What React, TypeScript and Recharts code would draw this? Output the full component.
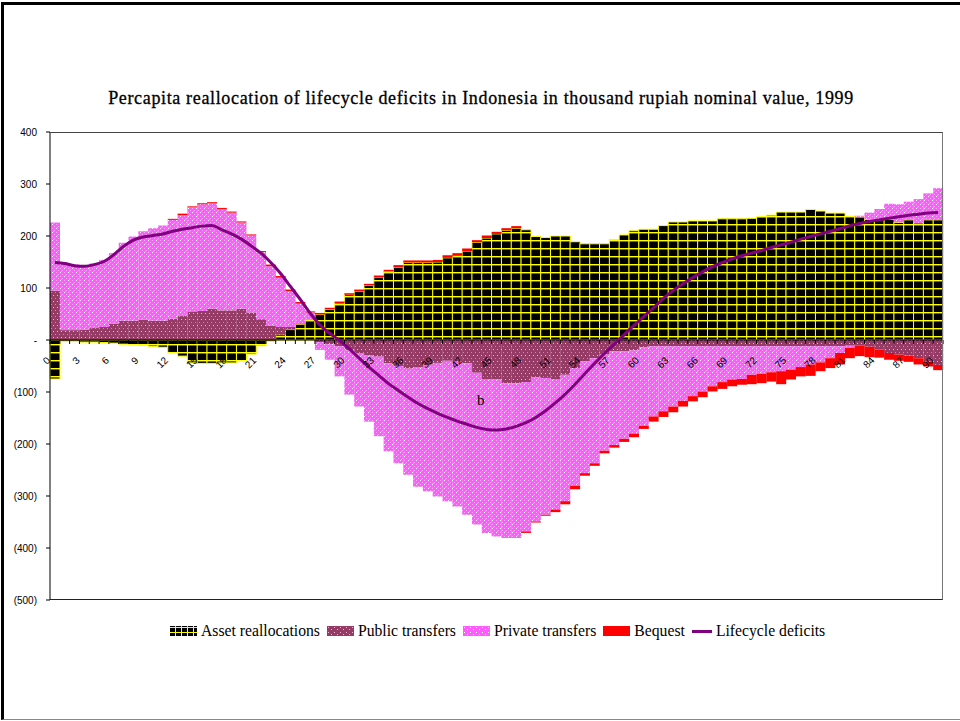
import React from 'react';
import { ComposedChart, Bar, Line, XAxis, YAxis, ReferenceLine } from 'recharts';

// ages 0..90
const ages = [
  0, 1, 2, 3, 4, 5, 6, 7, 8, 9, 10, 11, 12, 13, 14, 15, 16, 17, 18, 19, 20,
  21, 22, 23, 24, 25, 26, 27, 28, 29, 30, 31, 32, 33, 34, 35, 36, 37, 38, 39, 40,
  41, 42, 43, 44, 45, 46, 47, 48, 49, 50, 51, 52, 53, 54, 55, 56, 57, 58, 59, 60,
  61, 62, 63, 64, 65, 66, 67, 68, 69, 70, 71, 72, 73, 74, 75, 76, 77, 78, 79, 80,
  81, 82, 83, 84, 85, 86, 87, 88, 89, 90,
];

const assetReallocations = [
  -75, -3, -3, -4, -4, -5, -6, -8, -9, -10, -12, -14, -24, -31, -44, -45, -45, -44, -44, -40, -27,
  -11, -3, 10, 20, 30, 40, 49, 59, 71, 87, 94, 105, 121, 132, 140, 149, 149, 149, 150, 158,
  162, 171, 188, 196, 204, 211, 215, 212, 199, 197, 200, 200, 189, 185, 185, 185, 193, 202, 210, 213,
  213, 220, 227, 227, 229, 229, 229, 233, 233, 233, 234, 237, 240, 246, 246, 246, 251, 248, 244, 244,
  238, 237, 232, 232, 232, 226, 231, 225, 231, 231,
];

const publicTransfers = [
  95, 19, 19, 20, 23, 25, 31, 37, 37, 39, 37, 37, 41, 46, 55, 56, 60, 57, 57, 60, 53,
  40, 28, 15, 5, 2, 0, -4, -8, -12, -20, -25, -30, -32, -45, -50, -55, -52, -48, -44, -40,
  -42, -45, -63, -75, -76, -83, -83, -81, -72, -73, -75, -67, -54, -41, -35, -28, -22, -22, -20, -14,
  -12, -12, -12, -12, -12, -12, -12, -12, -12, -12, -12, -12, -12, -12, -12, -12, -12, -12, -12, -12,
  -11, -11, -13, -18, -25, -28, -30, -35, -42, -48,
];

const privateTransfers = [
  131, 129, 126, 122, 124, 129, 136, 150, 162, 170, 178, 183, 190, 194, 200, 205, 203, 195, 188, 166, 148,
  129, 114, 95, 69, 38, 13, -15, -30, -58, -85, -103, -127, -153, -169, -187, -204, -230, -243, -257, -270,
  -278, -291, -292, -296, -302, -298, -298, -287, -277, -263, -251, -243, -226, -215, -202, -185, -180, -168, -160, -151,
  -135, -125, -116, -105, -96, -87, -77, -69, -64, -63, -55, -53, -50, -48, -45, -40, -35, -31, -23, -13,
  -4, 2, 13, 20, 30, 35, 35, 46, 51, 61,
];

const bequest = [
  0, 0, 0, 0, 0, 0, 0, 0, 0, 0, 0, 0, 2, 3, 2, 2, 2, 2, 2, 2, 2,
  2, 3, 3, 3, 3, 2, 3, 3, 3, 3, 3, 3, 3, 3, 4, 4, 4, 4, 4, 5,
  5, 5, 4, 5, 4, 4, 4, -3, -2, -2, -5, -6, -7, -5, -5, -5, -5, -6, -7, -6,
  -10, -11, -11, -11, -10, -11, -10, -13, -13, -11, -18, -18, -18, -25, -19, -18, -22, -17, -19, -22,
  -20, -20, -20, -16, -13, -12, -12, -12, -9, -10,
];

const lifecycleDeficits = [
  149, 147, 143, 142, 145, 151, 164, 180, 192, 198, 201, 204, 209, 213, 216, 219, 220, 212, 204, 194, 181,
  167, 149, 128, 103, 78, 52, 29, 13, -1, -17, -35, -52, -68, -84, -97, -110, -122, -132, -141, -149,
  -156, -162, -168, -172, -173, -171, -166, -159, -149, -136, -121, -104, -85, -65, -45, -26, -8, 10, 28, 45,
  62, 80, 95, 108, 120, 131, 141, 149, 156, 162, 167, 172, 178, 183, 188, 194, 199, 204, 209, 214,
  220, 224, 228, 231, 234, 237, 240, 242, 244, 245,
];

const yTicks = [-500, -400, -300, -200, -100, 0, 100, 200, 300, 400];

const data = ages.map((age, i) => ({
  age,
  asset: assetReallocations[i],
  pub: publicTransfers[i],
  priv: privateTransfers[i],
  bequest: bequest[i],
  deficit: lifecycleDeficits[i],
}));

const W = 960;
const H = 721;
const PLOT_LEFT = 50;
const PLOT_TOP = 132;
const PLOT_RIGHT = 943;
const PLOT_BOTTOM = 600;
const Y_MIN = -500;
const Y_MAX = 400;
const ZERO_Y = PLOT_TOP + ((PLOT_BOTTOM - PLOT_TOP) * Y_MAX) / (Y_MAX - Y_MIN);
const BAND = (PLOT_RIGHT - PLOT_LEFT) / ages.length;

const SANS = '"Liberation Sans", Arial, sans-serif';
const SERIF = '"Liberation Serif", "DejaVu Serif", serif';

const fmtY = (v: number) => (v === 0 ? '-' : v < 0 ? `(${-v})` : String(v));

function Patterns() {
  return (
    <defs>
      <pattern id="assetPat" width="8" height="8" patternUnits="userSpaceOnUse">
        <rect width="8" height="8" fill="#000" />
        <rect y="0" width="8" height="1" fill="#ffff00" />
        <rect y="1" width="8" height="1" fill="#6b6b00" />
      </pattern>
      <pattern id="publicPat" width="4" height="6" patternUnits="userSpaceOnUse">
        <rect width="4" height="6" fill="#963a66" />
        <rect x="1" y="1" width="1" height="1" fill="#e8b8d0" />
        <rect x="3" y="4" width="1" height="1" fill="#c98aa8" />
      </pattern>
      <pattern id="privatePat" width="8" height="8" patternUnits="userSpaceOnUse">
        <rect width="8" height="8" fill="#ff5cff" />
        <rect x="0" y="0" width="1" height="1" fill="#ffa8ff" />
        <rect x="2" y="2" width="1" height="1" fill="#ffa8ff" />
        <rect x="6" y="2" width="1" height="1" fill="#ffa8ff" />
        <rect x="4" y="0" width="1" height="1" fill="#ffffff" />
        <rect x="0" y="4" width="1" height="1" fill="#ffffff" />
        <rect x="4" y="4" width="1" height="1" fill="#ffa8ff" />
        <rect x="2" y="6" width="1" height="1" fill="#ffa8ff" />
        <rect x="6" y="6" width="1" height="1" fill="#ffa8ff" />
        <rect x="1" y="3" width="1" height="1" fill="#ff9cff" />
        <rect x="5" y="7" width="1" height="1" fill="#ff9cff" />
      </pattern>
    </defs>
  );
}

// category axis crossing at y = 0, drawn over the bars like the original
function AgeAxis() {
  return (
    <svg
      width={W}
      height={H}
      style={{ position: 'absolute', left: 0, top: 0, pointerEvents: 'none' }}
    >
      {ages.map((age, i) => {
        const left = PLOT_LEFT + BAND * i;
        const cx = left + BAND / 2;
        const ax = cx - 4;
        const ay = ZERO_Y + 21;
        return (
          <g key={age}>
            <line x1={left} x2={left} y1={ZERO_Y} y2={ZERO_Y + 4} stroke="#000" />
            {i === ages.length - 1 && (
              <line x1={left + BAND} x2={left + BAND} y1={ZERO_Y} y2={ZERO_Y + 4} stroke="#000" />
            )}
            {age % 3 === 0 && (
              <text
                x={ax}
                y={ay}
                transform={`rotate(-45 ${ax} ${ay})`}
                textAnchor="end"
                fontSize={10}
                fontFamily={SANS}
                fill="#000"
              >
                {age}
              </text>
            )}
          </g>
        );
      })}
    </svg>
  );
}

function Swatch({ kind }: { kind: string }) {
  return (
    <svg width={kind === 'line' ? 20 : 27} height={10} style={{ marginRight: 4 }}>
      <defs>
        <pattern id={`lg-${kind}`} width="6" height="5" patternUnits="userSpaceOnUse">
          {kind === 'asset' && (
            <>
              <rect width="6" height="5" fill="#000" />
              <rect x="0" y="1" width="6" height="1" fill="#ffff00" />
              <rect x="5" y="0" width="1" height="5" fill="#ffff00" />
            </>
          )}
          {kind === 'public' && (
            <>
              <rect width="6" height="5" fill="#963a66" />
              <rect x="1" y="1" width="1" height="1" fill="#e8b8d0" />
              <rect x="4" y="3" width="1" height="1" fill="#e8b8d0" />
            </>
          )}
          {kind === 'private' && (
            <>
              <rect width="6" height="5" fill="#ff5cff" />
              <rect x="1" y="1" width="1" height="1" fill="#fff" />
              <rect x="4" y="3" width="1" height="1" fill="#fff" />
            </>
          )}
        </pattern>
      </defs>
      {kind === 'line' ? (
        <rect x={0} y={4} width={20} height={3} fill="#800080" />
      ) : kind === 'bequest' ? (
        <rect width={27} height={10} fill="#ff0000" />
      ) : (
        <rect width={27} height={10} fill={`url(#lg-${kind})`} />
      )}
    </svg>
  );
}

const legendItems = [
  { kind: 'asset', label: 'Asset reallocations' },
  { kind: 'public', label: 'Public transfers' },
  { kind: 'private', label: 'Private transfers' },
  { kind: 'bequest', label: 'Bequest' },
  { kind: 'line', label: 'Lifecycle deficits' },
];

export default function App() {
  return (
    <div style={{ position: 'absolute', left: 0, top: 0, width: W, height: H, background: '#fff' }}>
      {/* slide frame */}
      <div
        style={{
          position: 'absolute',
          left: 1,
          top: 2,
          width: 956,
          height: 714,
          borderLeft: '3px solid #000',
          borderTop: '3px solid #000',
          borderBottom: '1px solid #888',
        }}
      />
      <div
        style={{
          position: 'absolute',
          left: 0,
          top: 88,
          width: 962,
          textAlign: 'center',
          fontFamily: SERIF,
          fontSize: 18,
          letterSpacing: 0.65,
          color: '#000',
          WebkitTextStroke: '0.3px #000',
        }}
      >
        Percapita reallocation of lifecycle deficits in Indonesia in thousand rupiah nominal value, 1999
      </div>

      <ComposedChart
        width={W}
        height={H}
        data={data}
        stackOffset="sign"
        barCategoryGap={0}
        barGap={0}
        margin={{ top: PLOT_TOP, right: W - PLOT_RIGHT, bottom: H - PLOT_BOTTOM, left: 0 }}
        style={{ position: 'absolute', left: 0, top: 0 }}
      >
        <Patterns />
        <XAxis dataKey="age" hide />
        <YAxis
          width={PLOT_LEFT}
          domain={[Y_MIN, Y_MAX]}
          ticks={yTicks}
          tickFormatter={fmtY}
          axisLine={{ stroke: '#000' }}
          tickLine={{ stroke: '#000' }}
          tickSize={4}
          tickMargin={9}
          tick={{ fill: '#000', fontSize: 10, fontFamily: SANS }}
          allowDataOverflow
        />
        <Bar dataKey="asset" stackId="s" fill="url(#assetPat)" stroke="#ffff00" strokeWidth={1} isAnimationActive={false} />
        <Bar dataKey="pub" stackId="s" fill="url(#publicPat)" isAnimationActive={false} />
        <Bar dataKey="priv" stackId="s" fill="url(#privatePat)" isAnimationActive={false} />
        <Bar dataKey="bequest" stackId="s" fill="#ff0000" isAnimationActive={false} />
        <ReferenceLine y={0} stroke="#000" />
        <Line
          type="monotone"
          dataKey="deficit"
          stroke="#800080"
          strokeWidth={3}
          dot={false}
          isAnimationActive={false}
        />
      </ComposedChart>

      <AgeAxis />

      {/* plot area border */}
      <div
        style={{
          position: 'absolute',
          left: PLOT_LEFT,
          top: PLOT_TOP,
          width: PLOT_RIGHT - PLOT_LEFT,
          height: PLOT_BOTTOM - PLOT_TOP,
          boxSizing: 'border-box',
          borderTop: '1px solid #444',
          borderRight: '1px solid #777',
          borderBottom: '1px solid #222',
          pointerEvents: 'none',
        }}
      />

      <div
        style={{
          position: 'absolute',
          left: 477,
          top: 392,
          fontFamily: SERIF,
          fontSize: 15,
          color: '#000',
        }}
      >
        b
      </div>

      <div
        style={{
          position: 'absolute',
          left: 170,
          top: 622,
          display: 'flex',
          alignItems: 'center',
          whiteSpace: 'nowrap',
          fontFamily: SERIF,
          fontSize: 15.7,
          color: '#000',
        }}
      >
        {legendItems.map((it) => (
          <div key={it.kind} style={{ display: 'flex', alignItems: 'center', marginRight: 7 }}>
            <Swatch kind={it.kind} />
            <span>{it.label}</span>
          </div>
        ))}
      </div>
    </div>
  );
}
